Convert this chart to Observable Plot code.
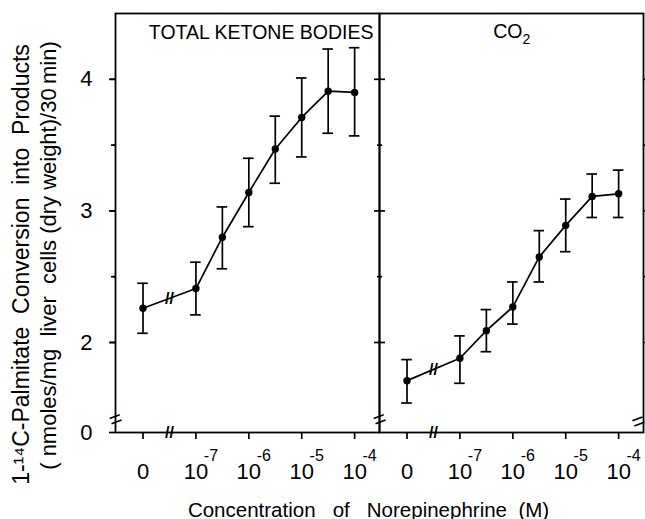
<!DOCTYPE html>
<html>
<head>
<meta charset="utf-8">
<script src="https://cdn.jsdelivr.net/npm/d3@7"></script>
<script src="https://cdn.jsdelivr.net/npm/@observablehq/plot@0.6"></script>
<style>
  html, body { margin: 0; padding: 0; background: white; }
</style>
</head>
<body>
<div id="chart"></div>
<script>
// Panels
const panels = ["TOTAL KETONE BODIES", "CO2"];

// Norepinephrine concentration as log10(M); -8 stands for "0" (no norepinephrine, before the axis break)
const doseLog = [-8, -7, -6.5, -6, -5.5, -5, -4.5, -4];

// Total ketone bodies: mean and error-bar limits
const ketoneMean = [2.26, 2.41, 2.80, 3.14, 3.47, 3.71, 3.91, 3.90];
const ketoneHi   = [2.45, 2.61, 3.03, 3.40, 3.72, 4.01, 4.23, 4.24];
const ketoneLo   = [2.07, 2.21, 2.56, 2.88, 3.21, 3.41, 3.59, 3.57];

// CO2: mean and error-bar limits
const co2Mean = [1.71, 1.88, 2.09, 2.27, 2.65, 2.89, 3.11, 3.13];
const co2Hi   = [1.87, 2.05, 2.25, 2.46, 2.85, 3.09, 3.28, 3.31];
const co2Lo   = [1.54, 1.69, 1.93, 2.14, 2.46, 2.69, 2.95, 2.95];

// Axis ticks
const xTicks = [-8, -7, -6, -5, -4];
const xTickBase = ["0", "10", "10", "10", "10"];
const xTickExp = ["", "-7", "-6", "-5", "-4"];
const yTicks = [2, 3, 4];
const yMinorTicks = [2.5, 3.5];
const yBottom = 1.316;   // broken axis: bottom of the frame is labelled "0"
const yBreak = 1.415;    // position of the axis break marks
const xBreak = -7.5;     // position of the x break between 0 and 10^-7

const rows = [];
panels.forEach((p, k) => {
  const m = k === 0 ? ketoneMean : co2Mean;
  const hi = k === 0 ? ketoneHi : co2Hi;
  const lo = k === 0 ? ketoneLo : co2Lo;
  doseLog.forEach((x, i) => rows.push({panel: p, x, mean: m[i], hi: hi[i], lo: lo[i], i}));
});
const lineBreaks = panels.map((p, k) => {
  const m = k === 0 ? ketoneMean : co2Mean;
  return {panel: p, x: xBreak, y: (m[0] + m[1]) / 2};
});
const expRows = xTicks.map((x, i) => ({x, e: xTickExp[i]})).filter(d => d.e);
const capHalf = 0.1;
const left = panels[0], right = panels[1];
const sw = 1.7;

const chart = Plot.plot({
  width: 645,
  height: 519,
  marginLeft: 114,
  marginRight: 2,
  marginTop: 13,
  marginBottom: 87,
  fx: {domain: panels, padding: 0, axis: null},
  x: {domain: [-8.52, -3.53]},
  y: {domain: [yBottom, 4.5]},
  style: {fontFamily: "Liberation Sans, Arial, sans-serif", fontSize: "22px", color: "black", background: "white"},
  marks: [
    Plot.frame({strokeWidth: 1.8}),
    Plot.axisX({ticks: xTicks, tickFormat: d => xTickBase[xTicks.indexOf(d)], tickSize: 7, tickPadding: 24, label: null, strokeWidth: sw}),
    Plot.text(expRows, {x: "x", text: "e", frameAnchor: "bottom", lineAnchor: "middle", dx: 15, dy: 23, fontSize: 16}),
    Plot.axisY({ticks: [yBottom, ...yTicks], tickFormat: d => d === yBottom ? "0" : String(d), tickSize: 6, tickPadding: 17, label: null, strokeWidth: sw}),
    Plot.axisY({ticks: yMinorTicks, tickFormat: () => "", tickSize: 4, label: null, strokeWidth: sw}),
    Plot.axisY({anchor: "left", facetAnchor: null, ticks: yTicks, tickFormat: () => "", tickSize: 5, label: null, strokeWidth: sw}),
    Plot.axisY({anchor: "right", facetAnchor: null, ticks: yTicks, tickFormat: () => "", tickSize: 5, label: null, strokeWidth: sw}),
    Plot.axisY({anchor: "left", facetAnchor: null, ticks: yMinorTicks, tickFormat: () => "", tickSize: 2, label: null, strokeWidth: sw}),
    Plot.axisY({anchor: "right", facetAnchor: null, ticks: yMinorTicks, tickFormat: () => "", tickSize: 2, label: null, strokeWidth: sw}),
    // axis breaks
    Plot.text([yBreak], {y: d => d, text: () => "=", frameAnchor: "left", textAnchor: "middle", lineAnchor: "middle", rotate: -20, fontSize: 22}),
    Plot.text([yBreak], {fx: () => right, y: d => d, text: () => "=", frameAnchor: "right", textAnchor: "end", lineAnchor: "middle", dx: 1, rotate: -20, fontSize: 22}),
    Plot.text([xBreak], {x: d => d, text: () => "//", frameAnchor: "bottom", lineAnchor: "middle", fontSize: 16, fontWeight: "bold"}),
    // data
    Plot.ruleX(rows, {fx: "panel", x: "x", y1: "lo", y2: "hi", strokeWidth: sw}),
    Plot.ruleY(rows, {fx: "panel", x1: d => d.x - capHalf, x2: d => d.x + capHalf, y: "hi", strokeWidth: sw}),
    Plot.ruleY(rows, {fx: "panel", x1: d => d.x - capHalf, x2: d => d.x + capHalf, y: "lo", strokeWidth: sw}),
    Plot.line(rows, {fx: "panel", x: "x", y: "mean", strokeWidth: sw}),
    Plot.dot(rows, {fx: "panel", x: "x", y: "mean", r: 3.7, fill: "black"}),
    Plot.text(lineBreaks, {fx: "panel", x: "x", y: "y", text: () => "//", fontSize: 16, fontWeight: "bold"}),
    // titles
    Plot.text([left], {fx: d => d, text: d => d, frameAnchor: "top-right", textAnchor: "end", lineAnchor: "middle", dx: -6, dy: 19, fontSize: 19.5}),
    Plot.text([right], {fx: d => d, text: () => "CO", frameAnchor: "top", textAnchor: "end", lineAnchor: "middle", dx: 11, dy: 18.5, fontSize: 19.5}),
    Plot.text([right], {fx: d => d, text: () => "2", frameAnchor: "top", textAnchor: "start", lineAnchor: "middle", dx: 11, dy: 26, fontSize: 14}),
    Plot.text([left], {fx: d => d, text: () => "1-\u00b9\u2074C-Palmitate\u00a0\u00a0Conversion\u00a0\u00a0into\u00a0\u00a0Products", frameAnchor: "left", textAnchor: "middle", lineAnchor: "middle", rotate: -90, dx: -94, dy: 41.5, fontSize: 23}),
    Plot.text([left], {fx: d => d, text: () => "( nmoles/mg\u00a0\u00a0liver\u00a0\u00a0cells (dry weight)/30\u2009min)", frameAnchor: "left", textAnchor: "middle", lineAnchor: "middle", rotate: -90, dx: -67, dy: 32.5, fontSize: 22}),
    Plot.text(["Concentration\u00a0\u00a0\u00a0of\u00a0\u00a0\u00a0Norepinephrine\u00a0\u00a0(M)"], {facet: "super", text: d => d, frameAnchor: "bottom", textAnchor: "middle", lineAnchor: "middle", dx: -11, dy: 77.5, fontSize: 20.5})
  ]
});
document.getElementById("chart").appendChild(chart);
</script>
</body>
</html>
